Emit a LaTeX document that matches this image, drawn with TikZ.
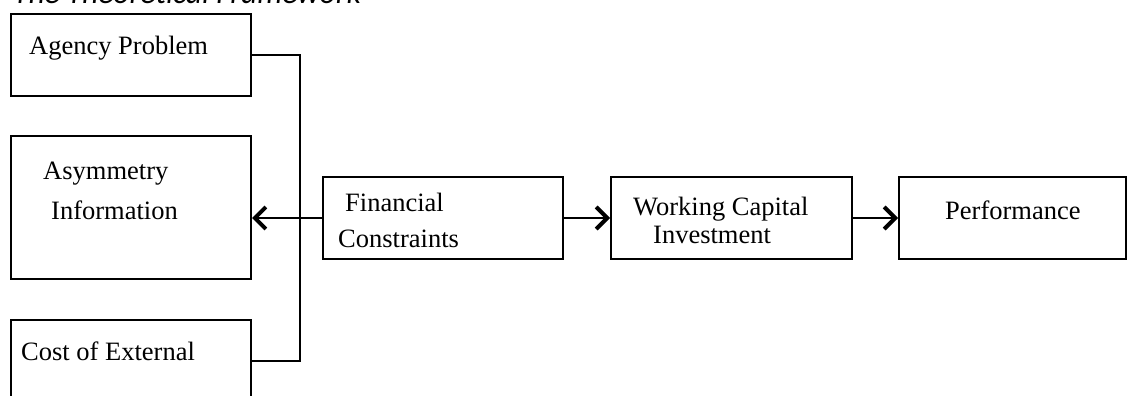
\documentclass[tikz,border=0pt]{standalone}
\usepackage{fontspec}
\setmainfont{Liberation Serif}
\newfontfamily\titlefont{Carlito}
\usetikzlibrary{arrows.meta,positioning}
\tikzset{
  box/.style={rectangle, draw=black, line width=2pt, inner sep=0pt, anchor=north west},
  lbl/.style={anchor=base west, inner sep=0pt, font=\fontsize{26.5}{30}\selectfont},
  link/.style={draw=black, line width=2.8pt},
  flow/.style={link, -{Straight Barb[length=11pt, width=22pt, line width=4pt]}},
}
\begin{document}
\begin{tikzpicture}[x=1pt, y=-1pt]
  \useasboundingbox (0,0) rectangle (1128,396);
  \node[anchor=base west, inner sep=0pt, font=\titlefont\itshape\fontsize{31.5}{34}\selectfont] (title) at (13,4) {The Theoretical Framework};
  % left column
  \node[box, minimum width=240pt, minimum height=82pt] (agency) at (10,13) {};
  \node[box, minimum width=240pt, minimum height=143pt] (asym) at (10,135) {};
  \node[box, minimum width=240pt, minimum height=82pt] (cost) at (10,319) {};
  \node[lbl] (tagency) at (29,55) {Agency Problem};
  \node[lbl] (tasym) at (43,179) {Asymmetry};
  \node[lbl] (tinfo) at (51,219) {Information};
  \node[lbl] (tcost) at (21,360) {Cost of External};
  % main chain
  \node[box, minimum width=240pt, minimum height=82pt] (fin) at (322,176) {};
  \node[box, minimum width=241pt, minimum height=82pt] (wci) at (610,176) {};
  \node[box, minimum width=227pt, minimum height=82pt] (perf) at (898,176) {};
  \node[lbl] (tfin) at (345,211) {Financial};
  \node[lbl] (tcons) at (338,247) {Constraints};
  \node[lbl] (twork) at (633,215) {Working Capital};
  \node[lbl] (tinv) at (653,243) {Investment};
  \node[lbl] (tperf) at (945,219) {Performance};
  % connectors
  \draw[link] (agency.east) -- ++(48,0) |- (cost.east);
  \draw[flow] (fin.west) -- (fin.west -| asym.east);
  \draw[flow] (fin.east) -- (wci.west);
  \draw[flow] (wci.east) -- (perf.west);
\end{tikzpicture}
\end{document}
